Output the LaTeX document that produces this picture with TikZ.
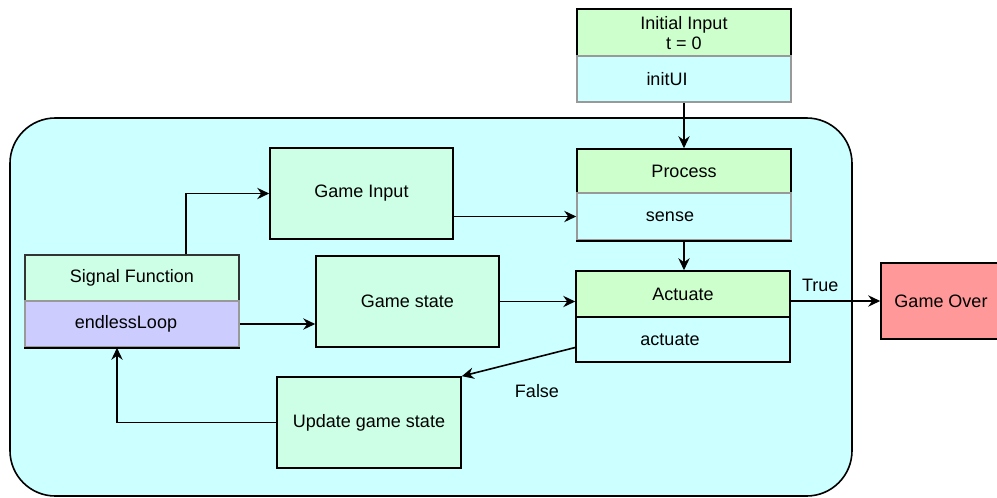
\documentclass[tikz,border=0pt]{standalone}
\usepackage{fontspec}
\setmainfont{Liberation Sans}
\usetikzlibrary{arrows.meta}
\definecolor{headgreen}{HTML}{CCFFCC}
\definecolor{itemcyan}{HTML}{CCFFFF}
\definecolor{mint}{HTML}{CCFFE6}
\definecolor{lavender}{HTML}{CCCCFF}
\definecolor{overred}{HTML}{FF9999}
\tikzset{
  txt/.style={font=\fontsize{13.5}{14.5}\selectfont, align=center},
  head/.style={txt, draw=black, fill=headgreen, inner sep=0pt,
    minimum width=214*0.75pt, minimum height=46*0.75pt},
  item/.style={txt, draw=black!40, fill=itemcyan, inner sep=0pt,
    minimum width=214*0.75pt, minimum height=46*0.75pt},
  task/.style={txt, draw=black, fill=mint, inner sep=0pt,
    minimum width=183*0.75pt, minimum height=91*0.75pt},
}
\begin{document}
\begin{tikzpicture}[x=0.75pt, y=-0.75pt, line width=1.2pt,
    >={Stealth[length=9pt, width=8.5pt, inset=3pt]}]
    \useasboundingbox (0,0) rectangle (997,497);
    \draw[fill=itemcyan, rounded corners=34pt] (10,118) rectangle (852,496);
    % initial input and process / actuate blocks
    \node[head, minimum height=48*0.75pt] (initinput) at (684,33) {Initial Input\\t = 0};
    \node[item] (initui) at (684,79) {};
    \node[txt] at (667,79) {initUI};
    \node[head, minimum height=44*0.75pt] (process) at (684,171) {Process};
    \node[item, minimum height=47*0.75pt] (sense) at (684,216.5) {};
    \node[txt] at (670,216.5) {sense};
    \draw (sense.south west) -- (sense.south east);
    \node[head] (acthead) at (683,294) {Actuate};
    \node[item, draw=black, minimum height=45*0.75pt] (actitem) at (683,339.5) {};
    \node[txt] at (670,339.5) {actuate};
    % signal function
    \node[head, fill=mint, draw=black!80] (sigfunc) at (132,278) {Signal Function};
    \node[item, fill=lavender] (endless) at (132,324) {};
    \node[txt] at (126,324) {endlessLoop};
    \draw (endless.south west) -- (endless.south east);
    % game blocks
    \node[task] (gameinput) at (361.5,193.5) {Game Input};
    \node[task] (gamestate) at (407.5,301.5) {Game state};
    \node[task, minimum width=184*0.75pt] (update) at (369,422.5) {Update game state};
    \node[txt, draw=black, fill=overred, inner sep=0pt, minimum width=120*0.75pt,
      minimum height=76*0.75pt] (gameover) at (941,301) {Game Over};
    % connectors
    \draw[->] (initui) -- (process);
    \draw[->] (gameinput.east |- sense.west) -- (sense.west);
    \draw[->] (sense.south) -- (sense.south |- acthead.north);
    \draw[->] ([xshift=54*0.75pt]sigfunc.north) |- (gameinput.west);
    \draw[->] (endless.east) -- (endless.east -| gamestate.west);
    \draw[->] (gamestate.east) -- (gamestate.east -| acthead.west);
    \draw[->] (acthead.east |- gameover.west) -- node[txt, pos=0.33, above=3pt] (true) {True} (gameover.west);
    \draw[->] ([yshift=-8*0.75pt]actitem.west) -- (update.north east);
    \node[txt] (false) at (537,391) {False};
    \draw[->] (update.west) -| ([xshift=-15*0.75pt]endless.south);
  \end{tikzpicture}
\end{document}
